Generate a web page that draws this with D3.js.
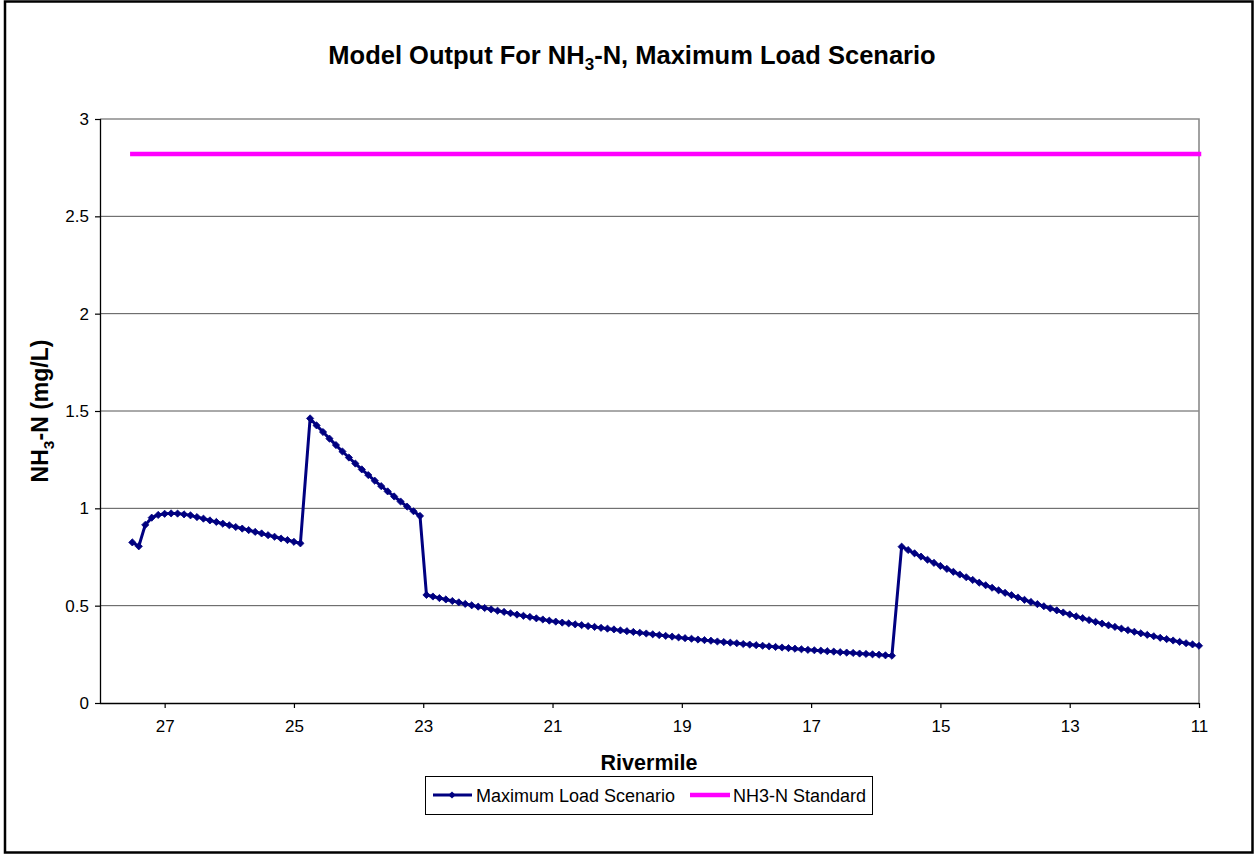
<!DOCTYPE html>
<html><head><meta charset="utf-8">
<script src="https://cdn.jsdelivr.net/npm/d3@7"></script>
<style>
body{margin:0;background:#fff}
svg{display:block}
text{font-family:"Liberation Sans",Arial,sans-serif;fill:#000}
</style>
</head><body>
<svg id="chart" width="1255" height="856"></svg>
<script>
// ---------------- DATA ----------------
const riverMiles = [
  27.5,27.4,27.3,27.2,27.1,27.0,26.9,26.8,26.7,26.6,26.5,26.4,26.3,26.2,26.1,26.0,25.9,25.8,25.7,25.6,25.5,25.4,25.3,25.2,25.1,25.0,24.9,
  24.75,24.65,24.55,24.45,24.35,24.25,24.15,24.05,23.95,23.85,23.75,23.65,23.55,23.45,23.35,23.25,23.15,23.05,
  22.95,22.85,22.75,22.65,22.55,22.45,22.35,22.25,22.15,22.05,
  21.95,21.85,21.75,21.65,21.55,21.45,21.35,21.25,21.15,21.05,
  20.95,20.85,20.75,20.65,20.55,20.45,20.35,20.25,20.15,20.05,
  19.95,19.85,19.75,19.65,19.55,19.45,19.35,19.25,19.15,19.05,
  18.95,18.85,18.75,18.65,18.55,18.45,18.35,18.25,18.15,18.05,
  17.95,17.85,17.75,17.65,17.55,17.45,17.35,17.25,17.15,17.05,
  16.95,16.85,16.75,16.65,16.55,16.45,16.35,16.25,16.15,16.05,
  15.95,15.85,15.75,
  15.6,15.5,15.4,15.3,15.2,15.1,15.0,14.9,14.8,14.7,14.6,14.5,14.4,14.3,14.2,14.1,14.0,
  13.9,13.8,13.7,13.6,13.5,13.4,13.3,13.2,13.1,13.0,12.9,12.8,12.7,12.6,12.5,12.4,12.3,12.2,12.1,12.0,
  11.9,11.8,11.7,11.6,11.5,11.4,11.3,11.2,11.1,11.0
];
const nh3Values = [
  0.825,0.805,0.915,0.952,0.966,0.972,0.974,0.973,0.969,0.964,0.955,0.947,0.938,0.930,0.921,0.913,0.904,0.896,0.888,0.879,0.871,0.862,0.854,0.845,0.837,0.828,0.820,
  1.462,1.426,1.392,1.358,1.325,1.292,1.261,1.230,1.200,1.171,1.142,1.114,1.087,1.061,1.035,1.009,0.985,0.961,
  0.555,0.547,0.539,0.532,0.524,0.517,0.509,0.502,0.495,0.488,
  0.481,0.474,0.468,0.461,0.454,0.448,0.442,0.435,0.429,0.423,
  0.418,0.413,0.409,0.404,0.400,0.395,0.391,0.386,0.382,0.378,
  0.373,0.369,0.365,0.361,0.357,0.353,0.349,0.345,0.341,0.337,
  0.333,0.330,0.326,0.323,0.320,0.316,0.313,0.310,0.307,0.303,
  0.300,0.297,0.294,0.291,0.288,0.285,0.282,0.279,0.276,0.273,
  0.271,0.269,0.266,0.264,0.261,0.259,0.257,0.254,0.252,0.250,
  0.248,0.245,0.243,
  0.803,0.786,0.769,0.752,0.736,0.720,0.704,0.689,0.674,0.660,0.646,0.632,0.618,0.605,0.592,0.579,0.566,
  0.554,0.542,0.530,0.519,0.508,0.497,0.486,0.476,0.465,0.455,0.445,0.436,0.426,0.417,0.408,0.399,0.391,0.382,0.374,
  0.366,0.358,0.350,0.343,0.335,0.328,0.321,0.314,0.307,0.301,0.294
];
const standardMiles = [27.5, 11.0];
const standardValues = [2.82, 2.82];
const xTickValues = [27,25,23,21,19,17,15,13,11];
const yTickValues = [0,0.5,1,1.5,2,2.5,3];
const seriesNames = ["Maximum Load Scenario", "NH3-N Standard"];

// ---------------- LAYOUT ----------------
const W = 1255, H = 856;
const plot = {left:100, right:1199, top:119, bottom:703};
const svg = d3.select("#chart");

const x = d3.scaleLinear().domain([28, 11]).range([plot.left, plot.right]);
const y = d3.scaleLinear().domain([0, 3]).range([plot.bottom, plot.top]);

// outer frame
svg.append("rect").attr("x",5).attr("y",1.5).attr("width",1247.5).attr("height",851)
  .attr("fill","#fff").attr("stroke","#000").attr("stroke-width",2.5);

// gridlines
svg.append("g").selectAll("line").data(yTickValues.filter(d=>d>0 && d<3)).join("line")
  .attr("x1",plot.left).attr("x2",plot.right)
  .attr("y1",d=>y(d)).attr("y2",d=>y(d))
  .attr("stroke","#555").attr("stroke-width",1);

// plot area border top/right
svg.append("path")
  .attr("d",`M${plot.left},${y(3)}H${plot.right}V${plot.bottom}`)
  .attr("fill","none").attr("stroke","#8a8a8a").attr("stroke-width",1.6);

// axes
const yAxis = d3.axisLeft(y).tickValues(yTickValues).tickSize(5).tickPadding(6)
  .tickFormat(d=>d3.format("")(d));
const gy = svg.append("g").attr("transform",`translate(${plot.left},0)`).call(yAxis);
const xAxis = d3.axisBottom(x).tickValues(xTickValues).tickSize(5).tickPadding(12);
const gx = svg.append("g").attr("transform",`translate(0,${plot.bottom})`).call(xAxis);
[gx, gy].forEach(g=>{
  g.select(".domain").attr("stroke","#000").attr("stroke-width",1.3);
  g.selectAll(".tick line").attr("stroke","#000").attr("stroke-width",1.2);
  g.selectAll(".tick text").attr("font-size",17).attr("fill","#000")
    .attr("font-family",'"Liberation Sans",Arial,sans-serif');
});
gx.select(".domain").attr("d",`M${plot.left},0.5H${plot.right}`);
gy.select(".domain").attr("d",`M0.5,${plot.top}V${plot.bottom}`);

// standard line
const stdData = standardMiles.map((m,i)=>({m, v:standardValues[i]}));
svg.append("path").datum(stdData)
  .attr("d", d3.line().x(d=>x(d.m)).y(d=>y(d.v)))
  .attr("fill","none").attr("stroke","#ff00ff").attr("stroke-width",4.5).attr("stroke-linecap","square");

// model series
const data = riverMiles.map((m,i)=>({m, v:nh3Values[i]}));
svg.append("path").datum(data)
  .attr("d", d3.line().x(d=>x(d.m)).y(d=>y(d.v)))
  .attr("fill","none").attr("stroke","#000080").attr("stroke-width",3).attr("stroke-linejoin","round");
const diamond = "M0,-3.6L3.6,0L0,3.6L-3.6,0Z";
svg.append("g").selectAll("path").data(data).join("path")
  .attr("d",diamond)
  .attr("transform",d=>`translate(${x(d.m)},${y(d.v)})`)
  .attr("fill","#000080").attr("stroke","#000080").attr("stroke-width",0.8);

// title
const title = svg.append("text").attr("x",632).attr("y",64).attr("text-anchor","middle")
  .attr("font-size",25.5).attr("font-weight","bold");
title.append("tspan").text("Model Output For NH");
title.append("tspan").text("3").attr("font-size",17).attr("dy",6);
title.append("tspan").text("-N, Maximum Load Scenario").attr("dy",-6);

// y axis title
const yt = svg.append("text").attr("transform",`translate(48,${(plot.top+plot.bottom)/2}) rotate(-90)`)
  .attr("text-anchor","middle").attr("font-size",23).attr("font-weight","bold");
yt.append("tspan").text("NH");
yt.append("tspan").text("3").attr("font-size",15.5).attr("dy",5.5);
yt.append("tspan").text("-N (mg/L)").attr("dy",-5.5);

// x axis title
svg.append("text").attr("x",649).attr("y",770).attr("text-anchor","middle")
  .attr("font-size",21.5).attr("font-weight","bold").text("Rivermile");

// legend
const lg = svg.append("g");
lg.append("rect").attr("x",425.5).attr("y",776.5).attr("width",447).attr("height",38)
  .attr("fill","#fff").attr("stroke","#000").attr("stroke-width",1);
lg.append("line").attr("x1",433).attr("x2",472).attr("y1",795).attr("y2",795)
  .attr("stroke","#000080").attr("stroke-width",3);
lg.append("path").attr("d",diamond).attr("transform","translate(452,795)").attr("fill","#000080");
lg.append("text").attr("x",476).attr("y",801.5).attr("font-size",18).text(seriesNames[0]);
lg.append("line").attr("x1",690).attr("x2",730).attr("y1",795).attr("y2",795)
  .attr("stroke","#ff00ff").attr("stroke-width",4.5);
lg.append("text").attr("x",733).attr("y",801.5).attr("font-size",18).text(seriesNames[1]);
</script>
</body></html>
